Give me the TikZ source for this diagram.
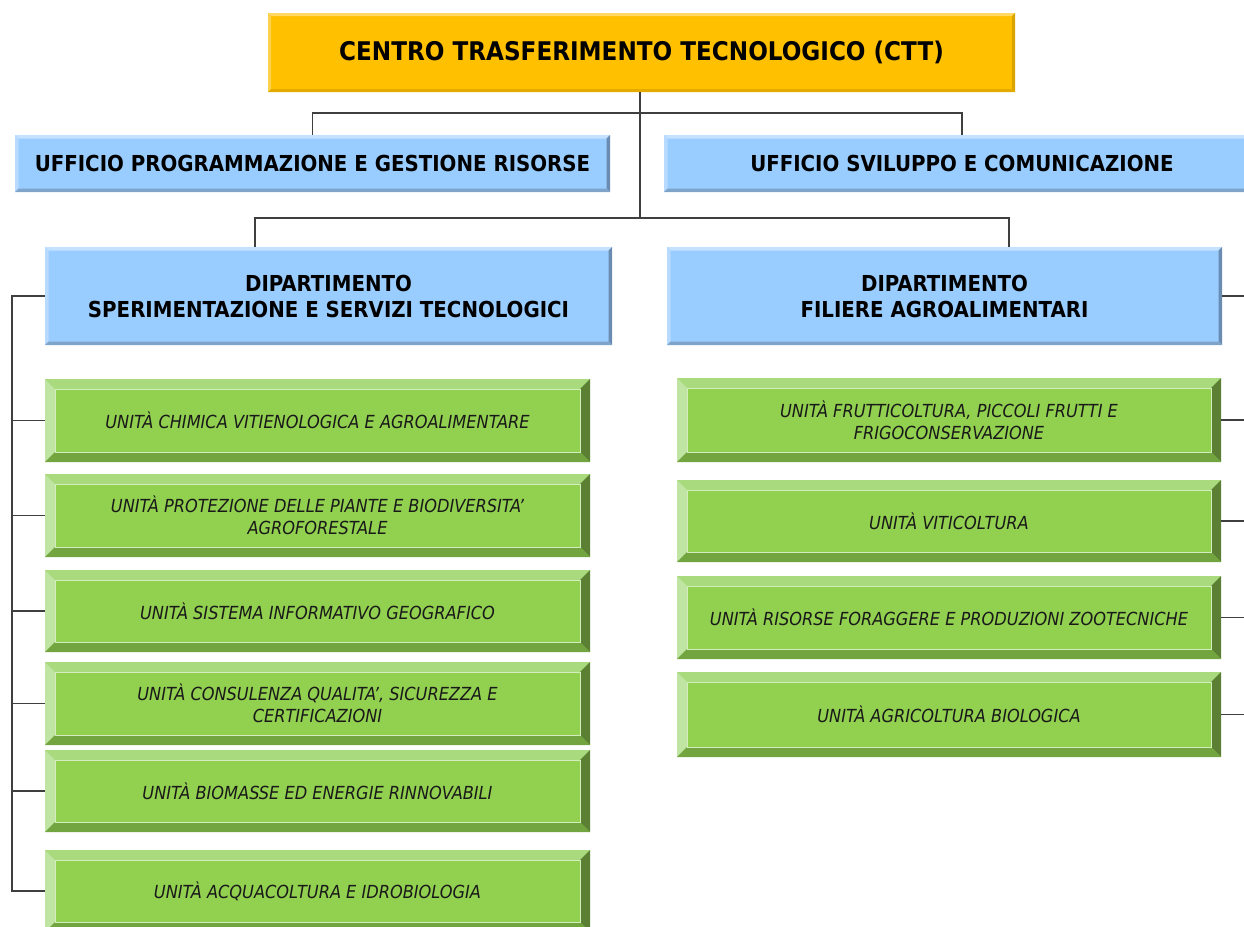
\documentclass[tikz,border=0pt]{standalone}
\usepackage{fontspec}
\setmainfont{DejaVu Sans Condensed}
\usetikzlibrary{calc}
\definecolor{gface}{HTML}{92D050}
\definecolor{gtop}{HTML}{A9DA7E}
\definecolor{gleft}{HTML}{C0E5A2}
\definecolor{gright}{HTML}{5B8034}
\definecolor{gbot}{HTML}{72A53F}
\definecolor{gline}{HTML}{D3EEBC}
\definecolor{bface}{HTML}{99CCFF}
\definecolor{btop}{HTML}{C4E2FF}
\definecolor{bleft}{HTML}{B8DAFF}
\definecolor{bright}{HTML}{6A8CB2}
\definecolor{bbot}{HTML}{7FA4CA}
\definecolor{oface}{HTML}{FFC000}
\definecolor{otop}{HTML}{FFD966}
\definecolor{oleft}{HTML}{FFD24D}
\definecolor{oright}{HTML}{D9A400}
\definecolor{obot}{HTML}{E3AB00}
\definecolor{conn}{HTML}{3F3F3F}
\tikzset{
  bevel/.style n args={7}{rectangle, inner sep=0pt, draw=none, fill=#1, align=center,
    path picture={
      \coordinate (NW) at (path picture bounding box.north west);
      \coordinate (NE) at (path picture bounding box.north east);
      \coordinate (SW) at (path picture bounding box.south west);
      \coordinate (SE) at (path picture bounding box.south east);
      \fill[#2] (NW) -- (NE) -- ([shift={(-#6,-#6)}]NE) -- ([shift={(#6,-#6)}]NW) -- cycle;
      \fill[#3] (NW) -- (SW) -- ([shift={(#6,#6)}]SW) -- ([shift={(#6,-#6)}]NW) -- cycle;
      \fill[#4] (NE) -- (SE) -- ([shift={(-#6,#6)}]SE) -- ([shift={(-#6,-#6)}]NE) -- cycle;
      \fill[#5] (SW) -- (SE) -- ([shift={(-#6,#6)}]SE) -- ([shift={(#6,#6)}]SW) -- cycle;
      \draw[line width=1pt, #7] ([shift={(#6,-#6)}]NW) rectangle ([shift={(-#6,#6)}]SE);
    }},
  unitbox/.style={bevel={gface}{gtop}{gleft}{gright}{gbot}{10pt}{gline},
    minimum width=545pt, minimum height=83pt,
    font=\itshape\fontsize{18}{22}\selectfont, text=black!90},
  bluebox/.style={bevel={bface}{btop}{bleft}{bright}{bbot}{3.5pt}{draw=none},
    font=\bfseries\fontsize{22}{26}\selectfont},
  topbox/.style={bevel={oface}{otop}{oleft}{oright}{obot}{3pt}{draw=none},
    font=\bfseries\fontsize{25.7}{28}\selectfont},
  wire/.style={draw=conn, line width=1.3pt}
}
\begin{document}
\begin{tikzpicture}
\useasboundingbox (0,0) rectangle (1244pt,-926pt);
% boxes
\node[topbox, minimum width=747pt, minimum height=79pt] (ctt) at (641.5pt,-52.5pt) {CENTRO TRASFERIMENTO TECNOLOGICO (CTT)};
\node[bluebox, minimum width=595pt, minimum height=57pt] (uf1) at (312.5pt,-163.5pt) {UFFICIO PROGRAMMAZIONE E GESTIONE RISORSE};
\node[bluebox, minimum width=596pt, minimum height=57pt] (uf2) at (962pt,-163.5pt) {UFFICIO SVILUPPO E COMUNICAZIONE};
\node[bluebox, minimum width=567pt, minimum height=98pt] (d1) at (328.5pt,-296pt) {DIPARTIMENTO\\SPERIMENTAZIONE E SERVIZI TECNOLOGICI};
\node[bluebox, minimum width=555pt, minimum height=98pt] (d2) at (944.5pt,-296pt) {DIPARTIMENTO\\FILIERE AGROALIMENTARI};
% left units
\node[unitbox] (l1) at (317.5pt,-420.5pt) {UNITÀ CHIMICA VITIENOLOGICA E AGROALIMENTARE};
\node[unitbox] (l2) at (317.5pt,-515.5pt) {UNITÀ PROTEZIONE DELLE PIANTE E BIODIVERSITA’\\AGROFORESTALE};
\node[unitbox, minimum height=82pt] (l3) at (317.5pt,-611pt) {UNITÀ SISTEMA INFORMATIVO GEOGRAFICO};
\node[unitbox] (l4) at (317.5pt,-703.5pt) {UNITÀ CONSULENZA QUALITA’, SICUREZZA E\\CERTIFICAZIONI};
\node[unitbox, minimum height=82pt] (l5) at (317.5pt,-791pt) {UNITÀ BIOMASSE ED ENERGIE RINNOVABILI};
\node[unitbox, minimum height=82pt] (l6) at (317.5pt,-891pt) {UNITÀ ACQUACOLTURA E IDROBIOLOGIA};
% right units
\node[unitbox, minimum width=544pt, minimum height=84pt] (r1) at (949pt,-420pt) {UNITÀ FRUTTICOLTURA, PICCOLI FRUTTI E\\FRIGOCONSERVAZIONE};
\node[unitbox, minimum width=544pt, minimum height=82pt] (r2) at (949pt,-521pt) {UNITÀ VITICOLTURA};
\node[unitbox, minimum width=544pt, minimum height=83pt] (r3) at (949pt,-617.5pt) {UNITÀ RISORSE FORAGGERE E PRODUZIONI ZOOTECNICHE};
\node[unitbox, minimum width=544pt, minimum height=85pt] (r4) at (949pt,-714.5pt) {UNITÀ AGRICOLTURA BIOLOGICA};
% connectors
\coordinate (hu) at (0pt,-113pt);
\coordinate (h1) at (255pt,-218pt);
\coordinate (h2) at (1009pt,-218pt);
\coordinate (lb) at (12pt,0pt);
\coordinate (rb) at (1260pt,0pt);
\draw[wire] (ctt.south -| 640pt,0) -- (h1 -| 640pt,0);
\draw[wire] (uf1.north) -- (uf1.north |- hu) -- (uf2.north |- hu) -- (uf2.north);
\draw[wire] (d1.north -| h1) -- (h1) -- (h2) -- (d2.north -| h2);
\draw[wire] (d1.west) -- (d1.west -| lb) -- (l6.west -| lb) -- (l6.west);
\foreach \n in {l1,l2,l3,l4,l5} \draw[wire] (\n.west -| lb) -- (\n.west);
\foreach \n in {d2,r1,r2,r3,r4} \draw[wire] (\n.east) -- (\n.east -| rb);
\end{tikzpicture}
\end{document}
